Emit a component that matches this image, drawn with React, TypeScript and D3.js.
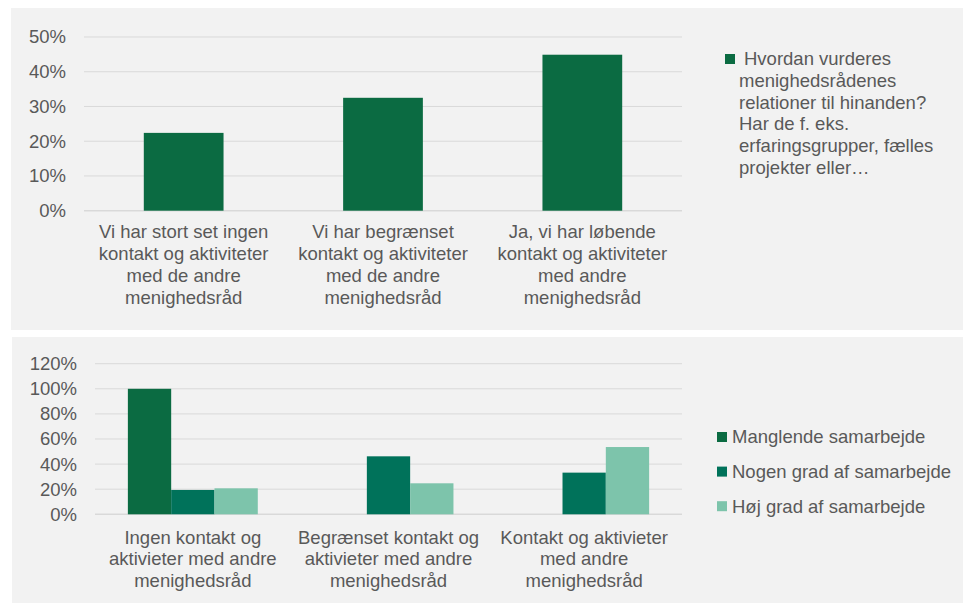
import React from "react";
import * as d3 from "d3";

const topCategories = [
  ["Vi har stort set ingen", "kontakt og aktiviteter", "med de andre", "menighedsråd"],
  ["Vi har begrænset", "kontakt og aktiviteter", "med de andre", "menighedsråd"],
  ["Ja, vi har løbende", "kontakt og aktiviteter", "med andre", "menighedsråd"],
];
const topValues = [22.4, 32.5, 44.9];
const topTicks = [0, 10, 20, 30, 40, 50];
const topLegendLines = [
  "Hvordan vurderes",
  "menighedsrådenes",
  "relationer til hinanden?",
  "Har de f. eks.",
  "erfaringsgrupper, fælles",
  "projekter eller…",
];

const bottomCategories = [
  ["Ingen kontakt og", "aktivieter med andre", "menighedsråd"],
  ["Begrænset kontakt og", "aktivieter med andre", "menighedsråd"],
  ["Kontakt og aktivieter", "med andre", "menighedsråd"],
];
const bottomSeries = ["Manglende samarbejde", "Nogen grad af samarbejde", "Høj grad af samarbejde"];
const manglende = [100, 0, 0];
const nogen = [19.4, 46.2, 33.2];
const hoej = [20.7, 24.7, 53.6];
const bottomTicks = [0, 20, 40, 60, 80, 100, 120];

const COLORS = ["#0b6b42", "#00725a", "#7dc4ab"];
const FONT = "'Liberation Sans', Arial, sans-serif";
const FS = 18.5;
const TEXT = "#595959";
const GRID = "#d9d9d9";
const BG = "#f2f2f2";

export default function App() {
  // top chart
  const tx = d3.scaleBand<number>().domain([0, 1, 2]).range([84, 682]).paddingInner(0.6).paddingOuter(0.3);
  const ty = d3.scaleLinear().domain([0, 50]).range([210.7, 37]);

  // bottom chart
  const bx = d3.scaleBand<number>().domain([0, 1, 2]).range([95, 682]).paddingInner(0.336).paddingOuter(0.168);
  const inner = d3.scaleBand<number>().domain([0, 1, 2]).range([0, bx.bandwidth()]);
  const by = d3.scaleLinear().domain([0, 120]).range([514.3, 363.7]);
  const bottomData = [manglende, nogen, hoej];

  return (
    <svg width={964} height={604} style={{ position: "absolute", left: 0, top: 0, fontFamily: FONT }}>
      <rect x={0} y={0} width={964} height={604} fill="#ffffff" />
      <rect x={11} y={8} width={952} height={322} fill={BG} />
      <rect x={12} y={337} width={951} height={266} fill={BG} />

      {/* top chart */}
      {topTicks.map((t) => (
        <g key={"tt" + t}>
          <line x1={84} x2={682} y1={ty(t)} y2={ty(t)} stroke={GRID} strokeWidth={t === 0 ? 1.5 : 1} />
          <text x={66} y={ty(t)} dy="0.35em" textAnchor="end" fontSize={FS} fill={TEXT}>
            {t}%
          </text>
        </g>
      ))}
      {topValues.map((v, i) => (
        <rect key={"tb" + i} x={tx(i)} y={ty(v)} width={tx.bandwidth()} height={ty(0) - ty(v)} fill={COLORS[0]} />
      ))}
      {topCategories.map((lines, i) => (
        <text key={"tc" + i} textAnchor="middle" fontSize={FS} fill={TEXT}>
          {lines.map((l, j) => (
            <tspan key={j} x={(tx(i) as number) + tx.bandwidth() / 2} y={232 + j * 21.7} dy="0.35em">
              {l}
            </tspan>
          ))}
        </text>
      ))}
      <rect x={725} y={54} width={10} height={10} fill={COLORS[0]} />
      <text fontSize={FS} fill={TEXT}>
        {topLegendLines.map((l, j) => (
          <tspan key={j} x={j === 0 ? 744 : 739} y={58.7 + j * 21.7} dy="0.35em">
            {l}
          </tspan>
        ))}
      </text>

      {/* bottom chart */}
      {bottomTicks.map((t) => (
        <g key={"bt" + t}>
          <line x1={95} x2={682} y1={by(t)} y2={by(t)} stroke={GRID} strokeWidth={t === 0 ? 1.5 : 1} />
          <text x={77} y={by(t)} dy="0.35em" textAnchor="end" fontSize={FS} fill={TEXT}>
            {t}%
          </text>
        </g>
      ))}
      {bottomData.map((series, s) =>
        series.map((v, i) =>
          v > 0 ? (
            <rect
              key={"bb" + s + "-" + i}
              x={(bx(i) as number) + (inner(s) as number)}
              y={by(v)}
              width={inner.bandwidth()}
              height={by(0) - by(v)}
              fill={COLORS[s]}
            />
          ) : null
        )
      )}
      {bottomCategories.map((lines, i) => (
        <text key={"bc" + i} textAnchor="middle" fontSize={FS} fill={TEXT}>
          {lines.map((l, j) => (
            <tspan key={j} x={(bx(i) as number) + bx.bandwidth() / 2} y={537.3 + j * 21.7} dy="0.35em">
              {l}
            </tspan>
          ))}
        </text>
      ))}
      {bottomSeries.map((name, s) => (
        <g key={"bl" + s}>
          <rect x={717} y={437 + s * 34.6 - 5} width={10} height={10} fill={COLORS[s]} />
          <text x={732} y={437 + s * 34.6} dy="0.35em" fontSize={FS} fill={TEXT}>
            {name}
          </text>
        </g>
      ))}
    </svg>
  );
}
